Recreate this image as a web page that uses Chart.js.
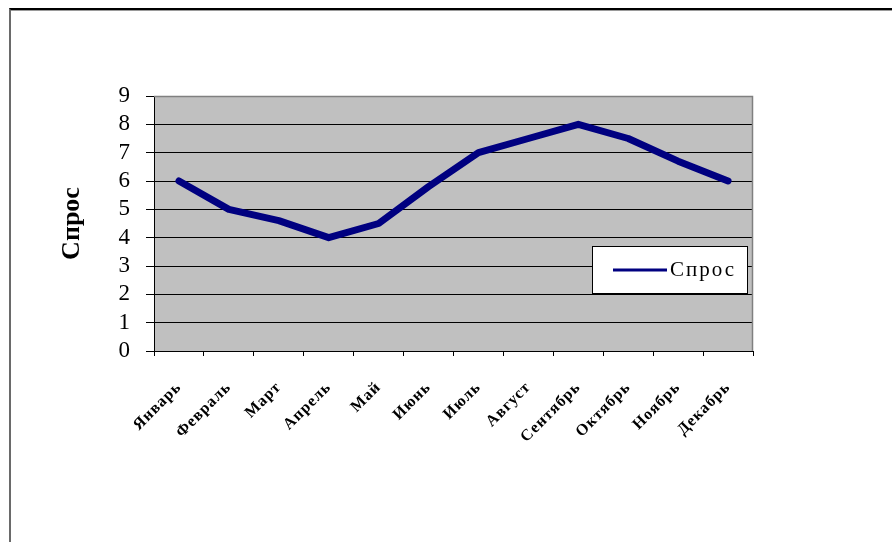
<!DOCTYPE html>
<html lang="ru">
<head>
<meta charset="utf-8">
<title>Спрос</title>
<script src="https://cdn.jsdelivr.net/npm/chart.js@4.4.1/dist/chart.umd.min.js"></script>
<style>
    html, body { margin: 0; padding: 0; background: #fff; }
    #lienzo { position: relative; width: 892px; height: 542px; overflow: hidden; }
    #marco {
        position: absolute; left: 9px; top: 8px; width: 900px; height: 560px;
        border-top: 2px solid #000; border-left: 2px solid #6a6a6a;
        box-shadow: inset 0 1px 0 #9a9a9a;
    }
    #lienzo canvas { position: absolute; left: 0; top: 0; }
</style>
</head>
<body>
<div id="lienzo">
    <div id="marco"></div>
    <canvas id="graficoSpros" width="892" height="542"></canvas>
</div>
<script>
// Месяцы и значения спроса
const meses = ['Январь', 'Февраль', 'Март', 'Апрель', 'Май', 'Июнь',
               'Июль', 'Август', 'Сентябрь', 'Октябрь', 'Ноябрь', 'Декабрь'];
const demanda = [6, 5, 4.6, 4, 4.5, 5.8, 7, 7.5, 8, 7.5, 6.7, 6];
const nombreSerie = 'Спрос';
const tituloEjeY = 'Спрос';

// Серый фон области построения + рамка сверху и справа
const fondoArea = {
    id: 'fondoArea',
    beforeDraw(chart) {
        const { ctx, chartArea: a } = chart;
        ctx.save();
        ctx.fillStyle = '#c0c0c0';
        ctx.fillRect(a.left, a.top, a.right - a.left, a.bottom - a.top);
        ctx.restore();
    },
    beforeDatasetsDraw(chart) {
        const { ctx, chartArea: a } = chart;
        ctx.save();
        ctx.strokeStyle = '#808080';
        ctx.lineWidth = 1.5;
        ctx.beginPath();
        ctx.moveTo(a.left, a.top + 0.5);
        ctx.lineTo(a.right - 0.5, a.top + 0.5);
        ctx.lineTo(a.right - 0.5, a.bottom);
        ctx.stroke();
        ctx.restore();
    }
};

// Легенда внутри области построения
const leyendaInterior = {
    id: 'leyendaInterior',
    afterDatasetsDraw(chart) {
        const { ctx, chartArea: a } = chart;
        const ds = chart.data.datasets[0];
        const x = a.right - 161, y = a.top + 150, w = 155, h = 47;
        ctx.save();
        ctx.letterSpacing = '2px';
        ctx.fillStyle = '#fff';
        ctx.fillRect(x, y, w, h);
        ctx.strokeStyle = '#000';
        ctx.lineWidth = 1;
        ctx.strokeRect(x + 0.5, y + 0.5, w, h);
        ctx.strokeStyle = ds.borderColor;
        ctx.lineWidth = 3;
        ctx.beginPath();
        ctx.moveTo(x + 21, y + 24);
        ctx.lineTo(x + 75, y + 24);
        ctx.stroke();
        ctx.fillStyle = '#000';
        ctx.font = '21px "Liberation Serif", "Times New Roman", serif';
        ctx.textBaseline = 'middle';
        ctx.fillText(ds.label, x + 78, y + 24);
        ctx.restore();
    }
};

// Подписи оси X идут после линии (ticks.z: 1) — разрядка только для месяцев
const rasgoX = {
    id: 'rasgoX',
    afterDatasetsDraw(chart) { chart.ctx.letterSpacing = '1px'; },
    afterDraw(chart) { chart.ctx.letterSpacing = '0px'; }
};

const ctx = document.getElementById('graficoSpros').getContext('2d');

new Chart(ctx, {
    type: 'line',
    data: {
        labels: meses,
        datasets: [{
            label: nombreSerie,
            data: demanda,
            borderColor: '#000080',
            borderWidth: 7,
            borderJoinStyle: 'round',
            borderCapStyle: 'round',
            pointRadius: 0,
            tension: 0,
            fill: false
        }]
    },
    options: {
        responsive: false,
        animation: false,
        layout: { padding: { left: 57, top: 96, right: 139, bottom: 42 } },
        plugins: {
            legend: { display: false },
            tooltip: { enabled: false }
        },
        scales: {
            x: {
                type: 'category',
                offset: true,
                grid: {
                    offset: true,
                    drawOnChartArea: false,
                    color: '#000',
                    tickLength: 5
                },
                border: { color: '#000', width: 1 },
                ticks: {
                    z: 1,
                    autoSkip: false,
                    minRotation: 45,
                    maxRotation: 45,
                    padding: 22,
                    color: '#000',
                    font: { family: '"Liberation Serif", "Times New Roman", serif', size: 16, weight: 'bold' }
                },
                afterFit(scale) { scale.height = 149; }
            },
            y: {
                min: 0,
                max: 9,
                ticks: {
                    stepSize: 1,
                    autoSkip: false,
                    padding: 16,
                    color: '#000',
                    font: { family: '"Liberation Serif", "Times New Roman", serif', size: 23 }
                },
                grid: { color: '#000', lineWidth: 1, tickLength: 8 },
                border: { color: '#000', width: 1 },
                title: {
                    display: true,
                    text: tituloEjeY,
                    color: '#000',
                    padding: 0,
                    font: { family: '"Liberation Serif", "Times New Roman", serif', size: 26, weight: 'bold' }
                },
                afterFit(scale) { scale.width = 97; }
            }
        }
    },
    plugins: [fondoArea, leyendaInterior, rasgoX]
});
</script>
</body>
</html>
